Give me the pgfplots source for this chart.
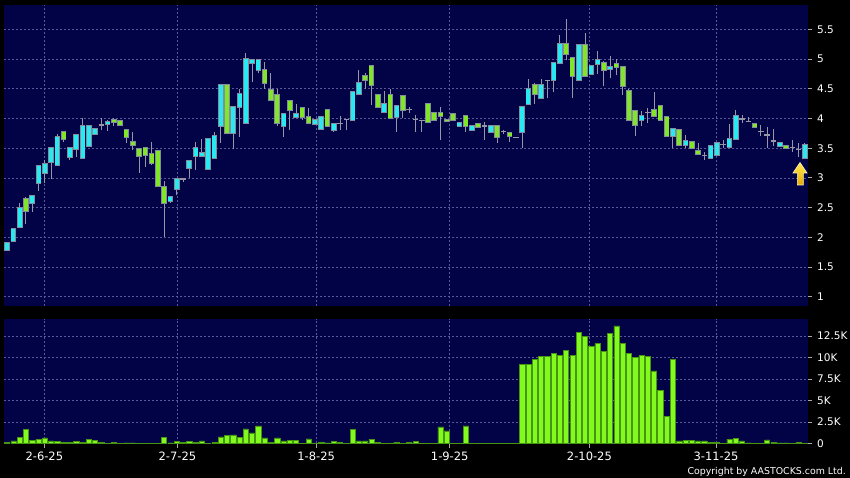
\documentclass[border=0pt]{standalone}
\usepackage{fontspec}
\setmainfont{DejaVu Sans}
\usepackage{pgfplots}
\pgfplotsset{compat=1.18}
\usepackage{pgfplotstable}

\definecolor{navy}{RGB}{2,2,70}
\definecolor{gridc}{RGB}{88,88,150}
\definecolor{tickc}{RGB}{170,170,170}
\definecolor{upc}{RGB}{40,232,242}
\definecolor{dnc}{RGB}{130,230,40}
\definecolor{bordc}{RGB}{130,140,155}
\definecolor{wickc}{RGB}{150,150,165}
\definecolor{volg}{RGB}{130,250,30}
\definecolor{volb}{RGB}{70,150,20}
\definecolor{arrowA}{RGB}{255,236,80}
\definecolor{arrowB}{RGB}{232,168,0}

\pgfplotstableread{
i o h l c
0 1.79 1.92 1.78 1.91
1 1.93 2.15 1.92 2.14
2 2.18 2.57 2.18 2.49
3 2.65 2.67 2.22 2.45
4 2.57 2.71 2.43 2.70
5 2.92 3.21 2.78 3.20
6 3.09 3.30 2.91 3.24
7 3.27 3.52 2.98 3.50
8 3.21 3.74 3.21 3.69
9 3.78 3.79 3.60 3.65
10 3.35 3.52 3.30 3.51
11 3.49 3.74 3.35 3.73
12 3.33 4.00 3.32 3.88
13 3.53 3.89 3.53 3.88
14 3.74 3.84 3.74 3.83
15 3.89 4.00 3.80 3.89
16 3.90 3.98 3.79 3.94
17 3.98 4.00 3.87 3.94
18 3.95 3.96 3.87 3.89
19 3.80 3.80 3.59 3.69
20 3.60 3.77 3.47 3.55
21 3.48 3.50 3.09 3.37
22 3.50 3.50 3.19 3.39
23 3.40 3.60 3.21 3.25
24 3.45 3.46 2.86 2.86
25 2.85 2.94 2.01 2.57
26 2.61 2.70 2.57 2.68
27 2.81 2.99 2.71 2.98
28 2.98 3.00 2.93 2.98
29 3.17 3.30 2.99 3.29
30 3.37 3.61 3.14 3.50
31 3.37 3.65 3.36 3.42
32 3.15 3.66 3.15 3.66
33 3.33 3.78 3.33 3.70
34 3.88 4.58 3.59 4.56
35 4.56 4.58 3.76 3.76
36 3.76 4.19 3.48 4.19
37 4.19 4.50 3.69 4.42
38 3.93 5.10 3.93 5.00
39 4.94 5.00 4.62 4.99
40 4.81 4.99 4.76 4.99
41 4.81 4.95 4.50 4.60
42 4.48 4.76 4.30 4.31
43 4.39 4.50 3.88 3.93
44 3.88 4.09 3.69 4.08
45 4.29 4.30 3.81 4.14
46 4.03 4.24 4.02 4.07
47 4.18 4.20 3.98 4.02
48 4.03 4.18 3.92 3.93
49 3.90 3.99 3.89 3.98
50 3.83 4.03 3.82 4.02
51 4.15 4.16 3.88 3.88
52 3.81 3.93 3.78 3.91
53 3.92 4.04 3.81 3.92
54 3.98 3.99 3.80 3.98
55 3.98 4.45 3.98 4.45
56 4.41 4.81 4.39 4.59
57 4.72 4.77 4.50 4.65
58 4.89 4.90 4.22 4.57
59 4.39 4.42 4.20 4.20
60 4.11 4.46 4.11 4.25
61 4.40 4.49 4.00 4.00
62 4.02 4.23 3.78 4.21
63 4.38 4.38 4.00 4.14
64 4.15 4.20 4.10 4.15
65 3.98 4.06 3.78 3.98
66 3.97 3.98 3.78 3.97
67 4.25 4.26 3.94 3.94
68 4.10 4.10 3.96 3.97
69 4.10 4.19 3.63 4.04
70 3.98 3.99 3.94 3.95
71 4.08 4.08 3.98 3.98
72 3.88 3.94 3.85 3.93
73 4.05 4.05 3.78 3.88
74 3.81 3.88 3.80 3.88
75 3.91 3.92 3.86 3.86
76 3.87 3.94 3.63 3.87
77 3.78 3.88 3.78 3.88
78 3.88 3.88 3.59 3.69
79 3.78 3.80 3.74 3.78
80 3.75 3.76 3.61 3.70
81 3.68 3.69 3.67 3.68
82 3.77 4.20 3.50 4.20
83 4.25 4.67 4.25 4.49
84 4.57 4.59 4.25 4.42
85 4.35 4.67 4.35 4.57
86 4.64 4.65 4.34 4.64
87 4.65 4.94 4.45 4.94
88 4.94 5.40 4.94 5.26
89 5.26 5.68 4.98 5.09
90 5.02 5.02 4.35 4.72
91 4.65 5.23 4.65 5.23
92 5.24 5.44 4.72 4.72
93 4.75 4.90 4.75 4.88
94 4.92 5.13 4.75 4.99
95 4.93 4.97 4.54 4.82
96 4.83 5.05 4.68 4.86
97 4.91 5.00 4.73 4.86
98 4.86 4.86 4.40 4.55
99 4.46 4.49 3.96 3.98
100 4.13 4.14 3.70 3.89
101 3.98 4.12 3.87 4.05
102 4.10 4.17 3.92 4.10
103 4.14 4.44 4.05 4.05
104 4.21 4.21 3.98 3.98
105 4.03 4.03 3.71 3.71
106 3.70 3.83 3.50 3.83
107 3.81 3.81 3.55 3.55
108 3.55 3.73 3.50 3.62
109 3.60 3.60 3.50 3.50
110 3.45 3.58 3.39 3.41
111 3.38 3.44 3.30 3.38
112 3.33 3.54 3.33 3.54
113 3.39 3.59 3.39 3.59
114 3.56 3.64 3.50 3.56
115 3.52 3.90 3.52 3.66
116 3.65 4.14 3.65 4.05
117 3.99 4.06 3.92 3.99
118 3.95 4.03 3.95 3.95
119 3.90 3.91 3.86 3.86
120 3.78 3.89 3.70 3.78
121 3.72 3.86 3.50 3.72
122 3.62 3.82 3.53 3.62
123 3.54 3.58 3.54 3.58
124 3.54 3.56 3.48 3.51
125 3.51 3.64 3.44 3.51
126 3.48 3.58 3.35 3.48
127 3.33 3.59 3.33 3.56
}\ohlc

\pgfplotstableread{
i v
0 0.15
1 0.30
2 0.74
3 1.63
4 0.40
5 0.50
6 0.66
7 0.30
8 0.27
9 0.10
10 0.15
11 0.27
12 0.15
13 0.50
14 0.35
15 0.15
16 0.05
17 0.15
18 0.04
19 0.08
20 0.08
21 0.03
22 0.03
23 0.03
24 0.05
25 0.74
26 0.08
27 0.23
28 0.15
29 0.20
30 0.15
31 0.30
32 0.04
33 0.10
34 0.78
35 0.93
36 1.00
37 0.74
38 1.70
39 1.24
40 2.05
41 0.66
42 0.10
43 0.66
44 0.30
45 0.35
46 0.35
47 0.04
48 0.54
49 0.05
50 0.10
51 0.08
52 0.27
53 0.15
54 0.04
55 1.67
56 0.30
57 0.30
58 0.50
59 0.15
60 0.04
61 0.04
62 0.15
63 0.04
64 0.15
65 0.20
66 0.04
67 0.03
68 0.03
69 1.94
70 1.47
71 0.02
72 0.02
73 2.05
74 0.02
75 0.02
76 0.03
77 0.05
78 0.04
79 0.03
80 0.03
81 0.02
82 9.22
83 9.22
84 9.84
85 10.15
86 10.15
87 10.46
88 10.23
89 10.85
90 10.23
91 12.97
92 12.50
93 11.35
94 11.62
95 10.77
96 12.78
97 13.70
98 11.66
99 10.46
100 10.00
101 10.23
102 10.15
103 8.45
104 6.18
105 3.13
106 9.84
107 0.30
108 0.35
109 0.35
110 0.30
111 0.30
112 0.12
113 0.12
114 0.05
115 0.50
116 0.55
117 0.30
118 0.08
119 0.04
120 0.04
121 0.43
122 0.15
123 0.08
124 0.08
125 0.04
126 0.12
127 0.04
}\vol

\pgfplotsset{
  chartpanel/.style={
    anchor=south west, scale only axis, width=804bp,
    xmin=-0.5, xmax=127.5,
    axis background/.style={fill=navy},
    axis line style={draw=none},
    grid=major,
    major grid style={draw=gridc, dash pattern=on 2bp off 2bp, line width=0.6bp},
    xtick={5.92,27.1,49.2,70.46,92.7,112.85},
    tick align=outside, major tick length=4bp,
    ytick pos=right,
    ytick style={draw=tickc, line width=0.8bp},
    yticklabel style={anchor=west, inner sep=0pt, xshift=5bp, text=white,
      font=\fontsize{10.5bp}{12bp}\selectfont},
    clip=true,
  },
  candle/.style 2 args={draw=none, mark=none,
    mark options={draw=none, fill=none}, forget plot,
    error bars/.cd, y dir=plus, y explicit, error mark=none,
    error bar style={draw=#1, line width=#2}},
}

\begin{document}
\begin{tikzpicture}
\fill[black] (0,0) rectangle (850bp,478bp);

% ---------------- price panel ----------------
\begin{axis}[chartpanel,
  at={(4bp,172bp)}, height=301bp,
  ymin=0.843, ymax=5.911,
  xticklabels={}, xtick style={draw=none},
  ytick={1,1.5,2,2.5,3,3.5,4,4.5,5,5.5},
  yticklabels={1,1.5,2,2.5,3,3.5,4,4.5,5,5.5},
]
% wicks
\addplot[candle={wickc}{1bp}]
  table[x=i, y=l, y error expr=\thisrow{h}-\thisrow{l}] {\ohlc};
% up bodies: border then fill
\addplot[candle={bordc}{5.6bp}]
  table[x=i, y expr={\thisrow{c}-\thisrow{o}>0.001 ? \thisrow{o}-0.017 : -10},
        y error expr={abs(\thisrow{c}-\thisrow{o})+0.034}] {\ohlc};
\addplot[candle={upc}{4.0bp}]
  table[x=i, y expr={\thisrow{c}-\thisrow{o}>0.001 ? \thisrow{o} : -10},
        y error expr={abs(\thisrow{c}-\thisrow{o})}] {\ohlc};
% down bodies
\addplot[candle={bordc}{5.6bp}]
  table[x=i, y expr={\thisrow{o}-\thisrow{c}>0.001 ? \thisrow{c}-0.017 : -10},
        y error expr={abs(\thisrow{c}-\thisrow{o})+0.034}] {\ohlc};
\addplot[candle={dnc}{4.0bp}]
  table[x=i, y expr={\thisrow{o}-\thisrow{c}>0.001 ? \thisrow{c} : -10},
        y error expr={abs(\thisrow{c}-\thisrow{o})}] {\ohlc};
% doji
\addplot[candle={wickc}{5.6bp}]
  table[x=i, y expr={abs(\thisrow{c}-\thisrow{o})<0.001 ? \thisrow{o}-0.012 : -10},
        y error expr={0.024}] {\ohlc};
\end{axis}

% ---------------- volume panel ----------------
\begin{axis}[chartpanel,
  at={(4bp,34.5bp)}, height=124.5bp,
  ymin=0, ymax=14.5,
  xtick pos=bottom,
  xticklabels={2-6-25,2-7-25,1-8-25,1-9-25,2-10-25,3-11-25},
  xtick style={draw=tickc, line width=0.8bp},
  xticklabel style={anchor=north, inner sep=0pt, yshift=-4bp, text=white,
      font=\fontsize{11.5bp}{13bp}\selectfont},
  ytick={0,2.5,5,7.5,10,12.5},
  yticklabels={0,2.5K,5K,7.5K,10K,12.5K},
]
\addplot[ybar, bar width=5.2bp, fill=volg, draw=volb, line width=0.6bp]
  table[x=i, y=v] {\vol};
\end{axis}

% latest-price arrow
\filldraw[draw={rgb,255:red,255;green,245;blue,190}, line width=0.6bp,
  top color=arrowA, bottom color=arrowB]
  (800bp,315.5bp) -- (807bp,305bp) -- (803.3bp,305bp) -- (803.3bp,293bp)
  -- (797.3bp,293bp) -- (797.3bp,305bp) -- (793bp,305bp) -- cycle;

\node[anchor=base east, inner sep=0pt, text=white,
  font=\fontsize{9.4bp}{11bp}\selectfont] at (846bp,3.5bp)
  {Copyright by AASTOCKS.com Ltd.};

\pgfresetboundingbox
\path[use as bounding box] (0,0) rectangle (850bp,478bp);
\end{tikzpicture}
\end{document}
